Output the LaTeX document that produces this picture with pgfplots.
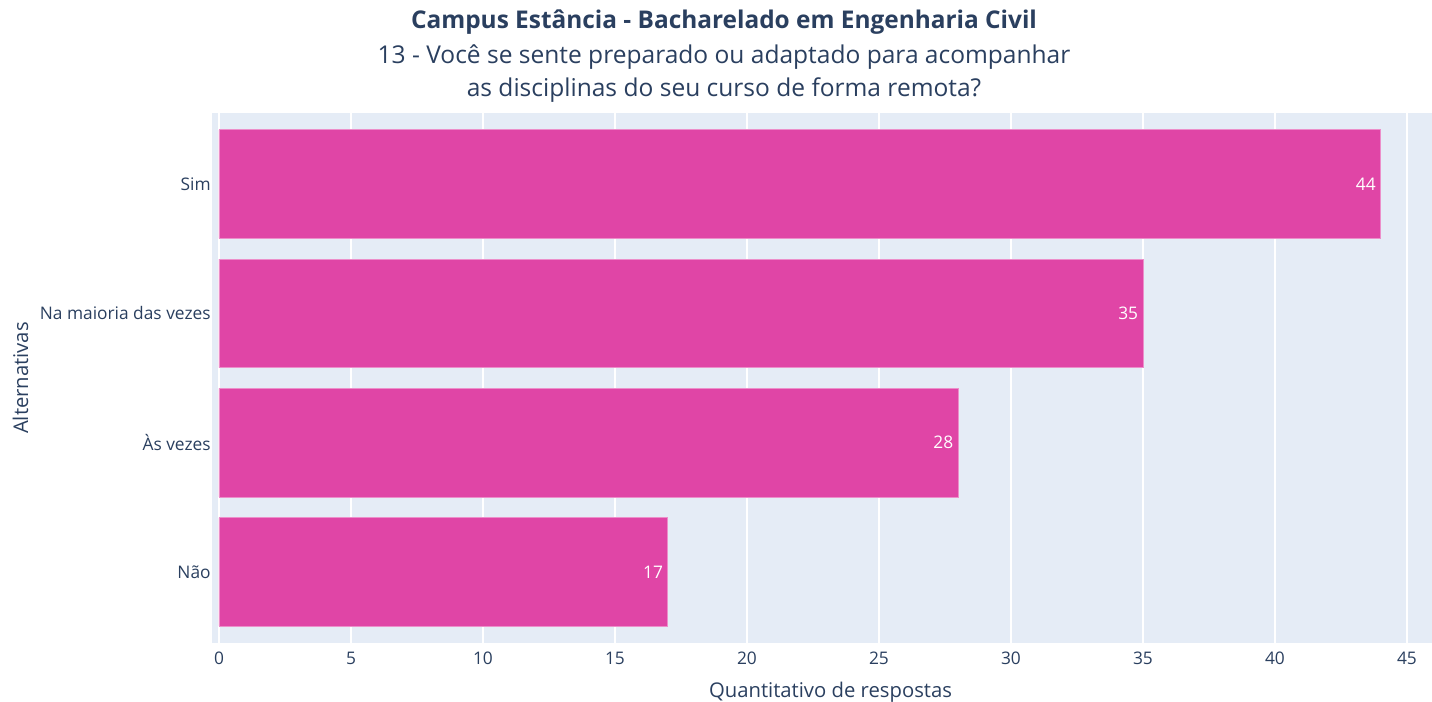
\documentclass[border=0pt]{standalone}
\usepackage{pgfplots}
\pgfplotsset{compat=1.18}
\usepackage{fontspec}
\setmainfont{Open Sans}

\definecolor{plotbg}{RGB}{229,236,246}
\definecolor{txt}{RGB}{42,63,95}
\definecolor{bar}{RGB}{224,69,166}

\begin{document}
\begin{tikzpicture}
% canvas 1432x702 px at 0.75pt/px, axis box at origin
\useasboundingbox (-159pt,-44.25pt) rectangle (915pt,482.25pt);
\begin{axis}[
    scale only axis,
    width=915pt, height=397.5pt,
    xbar,
    bar width=0.84,
    xmin=-0.265, xmax=45.95,
    ymin=-0.55, ymax=3.55,
    xtick={0,5,...,45},
    ytick={0,1,2,3},
    yticklabels={Não,Às vezes,Na maioria das vezes,Sim},
    axis background/.style={fill=plotbg},
    axis line style={draw=none},
    major tick length=0pt,
    xmajorgrids,
    grid style={white, line width=1.2pt},
    tick label style={font=\fontsize{13}{15}\selectfont, text=txt},
    /pgf/number format/assume math mode=true,
    xticklabel style={yshift=-3pt},
    yticklabel style={xshift=2.5pt},
    clip=false,
    nodes near coords,
    every node near coord/.append style={anchor=east, xshift=0pt,
        text=white, font=\fontsize{13}{15}\selectfont},
]
\addplot[fill=bar, draw=bar!60!white, line width=0.6pt]
    coordinates {(17,0) (28,1) (35,2) (44,3)};

\node[text=txt, font=\bfseries\fontsize{18.3}{21}\selectfont]
    at (axis description cs:0.4197,1.1717) {Campus Estância - Bacharelado em Engenharia Civil};
\node[text=txt, font=\fontsize{18.4}{21}\selectfont]
    at (axis description cs:0.4197,1.1057) {13 - Você se sente preparado ou adaptado para acompanhar};
\node[text=txt, font=\fontsize{18.4}{21}\selectfont]
    at (axis description cs:0.4197,1.0434) {as disciplinas do seu curso de forma remota?};
\node[text=txt, font=\fontsize{15.2}{18}\selectfont]
    at (axis description cs:0.507,-0.0925) {Quantitativo de respostas};
\node[text=txt, font=\fontsize{15.2}{18}\selectfont, rotate=90]
    at (axis description cs:-0.157,0.5) {Alternativas};
\end{axis}
\end{tikzpicture}
\end{document}
